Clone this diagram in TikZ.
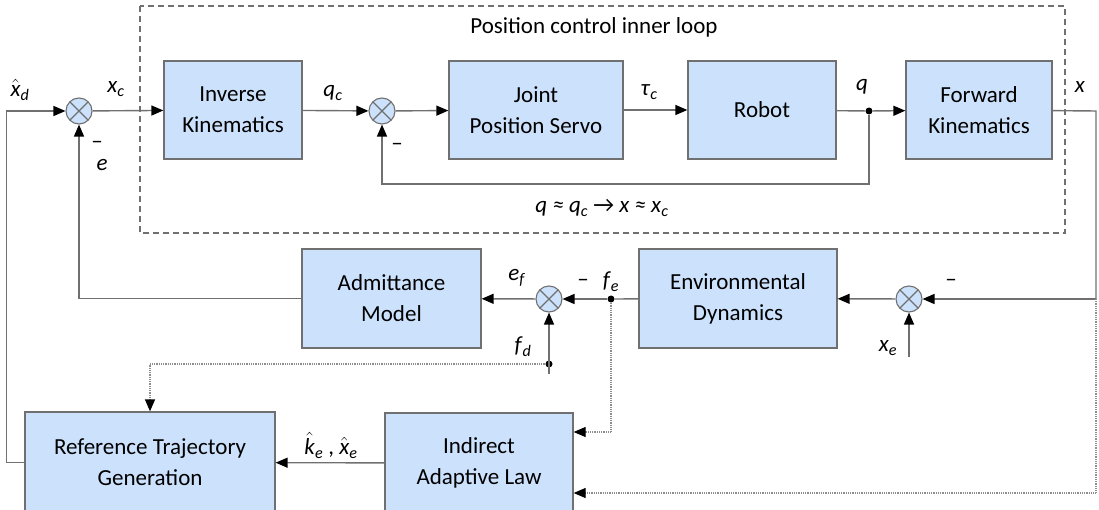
\documentclass[tikz,border=0pt]{standalone}
\usepackage{fontspec}
\setmainfont{Carlito}
\usetikzlibrary{arrows.meta,calc}
\definecolor{boxblue}{RGB}{204,226,252}
\definecolor{wire}{RGB}{112,112,112}
\newcommand\vsub[2]{\textit{#1}\textsubscript{\textit{#2}}}
\newcommand\vhsub[2]{$\hat{\mbox{\textit{#1}}}$\textsubscript{\textit{#2}}}
\tikzset{
  every node/.style={font=\fontsize{23}{31}\selectfont},
  blk/.style={draw=wire, fill=boxblue, line width=1.3pt, align=center, inner sep=0pt,
              minimum height=98pt},
  sumnode/.style={circle, draw=wire, fill=boxblue, line width=1.1pt, minimum size=26pt,
              inner sep=0pt,
              path picture={\draw[wire, line width=1.1pt]
                (path picture bounding box.north west) -- (path picture bounding box.south east)
                (path picture bounding box.north east) -- (path picture bounding box.south west);}},
  wireline/.style={draw=wire, line width=1.4pt},
  sig/.style={wireline, -{Triangle[length=12pt,width=10pt,color=black]}},
  dotsig/.style={draw=wire!80, line width=1.3pt, dash pattern=on 1pt off 0.8pt,
              -{Triangle[length=12pt,width=10pt,color=black]}},
  junction/.style={circle, fill=black, inner sep=0pt, minimum size=7pt},
  lbl/.style={inner sep=0pt},
}
\begin{document}
\begin{tikzpicture}[x=1pt, y=-1pt]
\useasboundingbox (0,0) rectangle (1099,510);

% inner position loop frame
\draw[wire, line width=1.3pt, dash pattern=on 6pt off 4pt] (140,6) rectangle (1065,233);
\node[lbl] (title) at (594,27) {Position control inner loop};

% blocks
\node[blk, minimum width=138pt] (inv) at (233,110) {Inverse\\Kinematics};
\node[blk, minimum width=174pt] (jps) at (536,110) {Joint\\Position Servo};
\node[blk, minimum width=148pt] (rob) at (762,110) {Robot};
\node[blk, minimum width=146pt] (fwd) at (979,110) {Forward\\Kinematics};
\node[blk, minimum width=179pt, minimum height=99pt] (adm) at (391.5,298.5) {Admittance\\Model};
\node[blk, minimum width=198pt, minimum height=99pt] (env) at (738,298.5) {Environmental\\Dynamics};
\node[blk, minimum width=250pt, minimum height=101pt] (rtg) at (150,462.5) {Reference Trajectory\\Generation};
\node[blk, minimum width=188pt, minimum height=100pt] (ial) at (479,463) {Indirect\\Adaptive Law};

% summing junctions
\node[sumnode] (s1) at (79,111) {};
\node[sumnode] (s2) at (382,111) {};
\node[sumnode] (s3) at (549,299) {};
\node[sumnode] (s4) at (909,299) {};

% branch points and free ends
\node[junction] (jq) at (869,111) {};
\node[junction] (jfe) at (611,299) {};
\node[junction] (jfd) at (549,364) {};
\coordinate (fdin) at (549,374);
\coordinate (xein) at (909,357);
\coordinate (xout) at (1096,111);
\coordinate (xdown) at (1096,299);

% forward path
\draw[sig] (rtg.west) -- ++(-18,0) |- (s1);
\draw[sig] (s1) -- (inv);
\draw[sig] (inv) -- (s2);
\draw[sig] (s2) -- (jps);
\draw[sig] (jps) -- (rob);
\draw[wireline] (rob) -- (jq);
\draw[sig] (jq) -- (fwd);
\draw[sig] (jq) |- (382,184) -- (s2);

% environment loop
\draw[wireline] (fwd) -- (xout) -- (xdown);
\draw[sig] (xdown) -- (s4);
\draw[sig] (xein) -- (s4);
\draw[sig] (s4) -- (env);
\draw[wireline] (env) -- (jfe);
\draw[sig] (jfe) -- (s3);
\draw[sig] (fdin) -- (s3);
\draw[sig] (s3) -- (adm);
\draw[sig] (adm.west) -| (s1);

% adaptation signals
\draw[dotsig] (jfd) -| (rtg.north);
\draw[dotsig] (jfe) |- (ial.east |- 0,432);
\draw[dotsig] (xdown) |- (ial.east |- 0,493);
\draw[sig] (ial) -- (rtg);

% signal labels
\node[lbl] (lxd) at (20,90) {\vhsub{x}{d}};
\node[lbl] (lxc) at (116,89) {\vsub{x}{c}};
\node[lbl] (lqc) at (333,93) {\vsub{q}{c}};
\node[lbl] (ltau) at (649,92) {\vsub{τ}{c}};
\node[lbl] (lq) at (862,87) {\textit{q}};
\node[lbl] (lx) at (1080,87) {\textit{x}};
\node[lbl] (lm1) at (97,145) {–};
\node[lbl] (le) at (102,165) {\textit{e}};
\node[lbl] (lm2) at (397,147) {–};
\node[lbl] (lrel) at (602,208) {\textit{q ≈ }\vsub{q}{c} → \textit{x ≈ }\vsub{x}{c}};
\node[lbl] (lef) at (517,278) {\vsub{e}{f}};
\node[lbl] (lm3) at (583,283) {–};
\node[lbl] (lfe) at (611,282) {\vsub{f}{e}};
\node[lbl] (lfd) at (523,347) {\vsub{f}{d}};
\node[lbl] (lm4) at (951,283) {–};
\node[lbl] (lxe) at (888,348) {\vsub{x}{e}};
\node[lbl] (lkx) at (331,445) {\vhsub{k}{e} , \vhsub{x}{e}};
\end{tikzpicture}
\end{document}
